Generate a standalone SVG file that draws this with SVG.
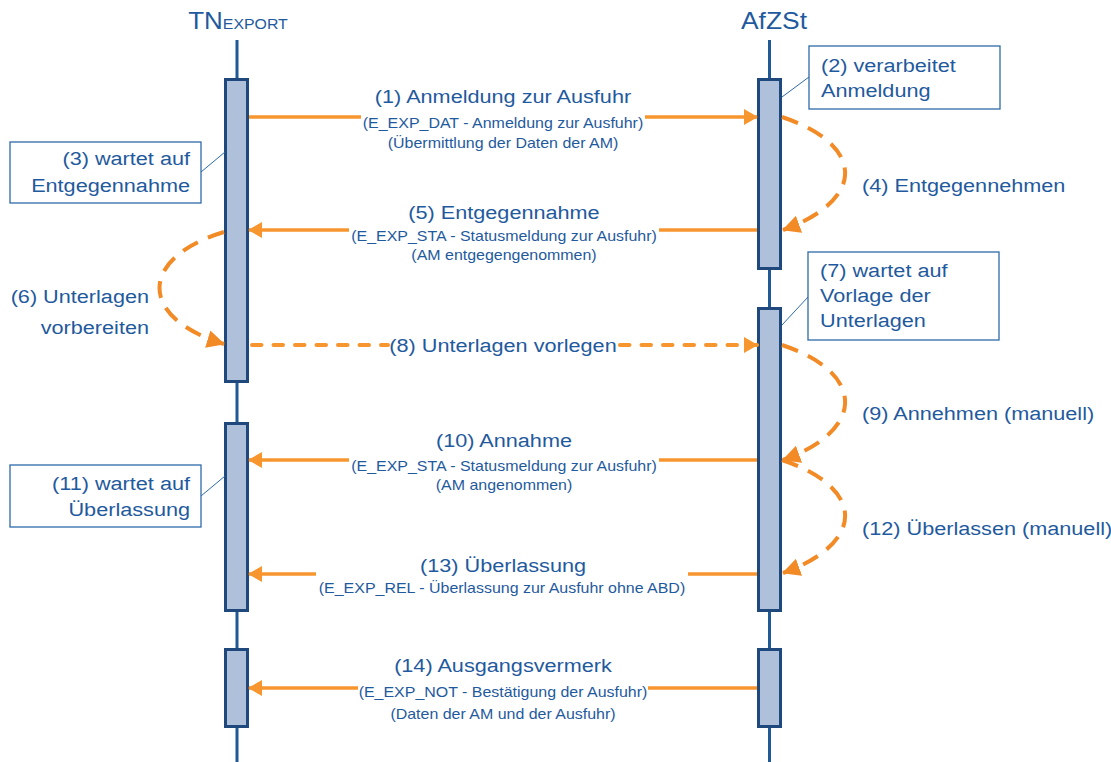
<svg xmlns="http://www.w3.org/2000/svg" width="1111" height="762" viewBox="0 0 1111 762">
<style>
text{font-family:"Liberation Sans",Arial,Helvetica,sans-serif;fill:#1f5a9e}
.t{font-size:24.5px}
.m{font-size:19px}
.s{font-size:14px}
.c{text-anchor:middle}
.e{text-anchor:end}
.life{stroke:#1f5a96;stroke-width:3;fill:none}
.act{fill:#afc1da;stroke:#1f497d;stroke-width:3}
.note{fill:#fff;stroke:#2e6aa8;stroke-width:1.3}
.lead{stroke:#2e6aa8;stroke-width:1;fill:none}
.msg{stroke:#f7962e;stroke-width:3.5;fill:none}
.dash{stroke:#f7962e;stroke-width:4;fill:none;stroke-dasharray:9.5 12;stroke-linecap:round}
.loop{stroke:#f28a26;stroke-width:4;fill:none;stroke-dasharray:17 11}
</style>
<defs>
<marker id="ah" markerUnits="userSpaceOnUse" markerWidth="14" markerHeight="16" viewBox="0 0 14 16" refX="13" refY="8" orient="auto">
<path d="M0,0 L14,8 L0,16 z" fill="#f7962e"/>
</marker>
<marker id="ah2" markerUnits="userSpaceOnUse" markerWidth="18" markerHeight="18" viewBox="0 0 18 18" refX="17" refY="9" orient="auto">
<path d="M0,0 L18,9 L0,18 z" fill="#f28a26"/>
</marker>
</defs>

<g id="tn">
<text class="t c" transform="translate(238,29) scale(1.06,1)">TN<tspan style="font-size:15px">EXPORT</tspan></text>
<line class="life" x1="237" y1="40" x2="237" y2="762"/>
<rect class="act" x="225.5" y="79.5" width="22" height="302"/>
<rect class="act" x="225.5" y="423.5" width="22" height="187"/>
<rect class="act" x="225.5" y="649.5" width="22" height="77"/>
</g>

<g id="afzst">
<text class="t c" x="774" y="29" textLength="66" lengthAdjust="spacingAndGlyphs">AfZSt</text>
<line class="life" x1="769.5" y1="40" x2="769.5" y2="762"/>
<rect class="act" x="758.5" y="79.5" width="22" height="189"/>
<rect class="act" x="758.5" y="308.5" width="22" height="302"/>
<rect class="act" x="758.5" y="649.5" width="22" height="77"/>
</g>

<g id="note2">
<line class="lead" x1="809" y1="77" x2="782" y2="97"/>
<rect class="note" x="809" y="46" width="191" height="63"/>
<text class="m" transform="translate(821,72) scale(1.14,1)">(2) verarbeitet</text>
<text class="m" transform="translate(821,97) scale(1.14,1)">Anmeldung</text>
</g>

<g id="note3">
<line class="lead" x1="201" y1="172" x2="225" y2="152"/>
<rect class="note" x="10" y="142" width="191" height="61"/>
<text class="m e" transform="translate(190,165) scale(1.14,1)">(3) wartet auf</text>
<text class="m e" transform="translate(190,192) scale(1.14,1)">Entgegennahme</text>
</g>

<g id="note7">
<line class="lead" x1="808" y1="297" x2="782" y2="325"/>
<rect class="note" x="808" y="252" width="191" height="88"/>
<text class="m" transform="translate(820,277) scale(1.14,1)">(7) wartet auf</text>
<text class="m" transform="translate(820,302) scale(1.14,1)">Vorlage der</text>
<text class="m" transform="translate(820,327) scale(1.14,1)">Unterlagen</text>
</g>

<g id="note11">
<line class="lead" x1="201" y1="496" x2="225" y2="476"/>
<rect class="note" x="10" y="465" width="191" height="62"/>
<text class="m e" transform="translate(190,490) scale(1.14,1)">(11) wartet auf</text>
<text class="m e" transform="translate(190,516) scale(1.14,1)">Überlassung</text>
</g>

<g id="connectors">
<path class="msg" d="M249,117 H361"/>
<path class="msg" d="M645,117 H757" marker-end="url(#ah)"/>
<path class="msg" d="M757,230 H659"/>
<path class="msg" d="M349,230 H249" marker-end="url(#ah)"/>
<path class="dash" d="M252,345 H388"/>
<path class="dash" d="M620,345 H757" marker-end="url(#ah)"/>
<path class="msg" d="M757,460 H659"/>
<path class="msg" d="M349,460 H249" marker-end="url(#ah)"/>
<path class="msg" d="M757,574 H688"/>
<path class="msg" d="M316,574 H249" marker-end="url(#ah)"/>
<path class="msg" d="M757,688 H648"/>
<path class="msg" d="M358,688 H249" marker-end="url(#ah)"/>
<path class="loop" d="M782,117 C866,145 866,200 783,230" marker-end="url(#ah2)"/>
<path class="loop" d="M782,345 C866,373 866,430 783,460" marker-end="url(#ah2)"/>
<path class="loop" d="M782,460 C866,488 866,543 783,573" marker-end="url(#ah2)"/>
<path class="loop" d="M224,232 C138,258 138,318 224,344" marker-end="url(#ah2)"/>
</g>

<g id="labels">
<text class="m c" transform="translate(503,103) scale(1.14,1)">(1) Anmeldung zur Ausfuhr</text>
<text class="s c" transform="translate(503,128) scale(1.14,1)">(E_EXP_DAT - Anmeldung zur Ausfuhr)</text>
<text class="s c" transform="translate(503,148) scale(1.14,1)">(Übermittlung der Daten der AM)</text>

<text class="m c" transform="translate(504,219) scale(1.14,1)">(5) Entgegennahme</text>
<text class="s c" transform="translate(504,241) scale(1.14,1)">(E_EXP_STA - Statusmeldung zur Ausfuhr)</text>
<text class="s c" transform="translate(504,260) scale(1.14,1)">(AM entgegengenommen)</text>

<text class="m c" transform="translate(503,352) scale(1.14,1)">(8) Unterlagen vorlegen</text>

<text class="m c" transform="translate(504,447) scale(1.14,1)">(10) Annahme</text>
<text class="s c" transform="translate(504,471) scale(1.14,1)">(E_EXP_STA - Statusmeldung zur Ausfuhr)</text>
<text class="s c" transform="translate(504,490) scale(1.14,1)">(AM angenommen)</text>

<text class="m c" transform="translate(503,572) scale(1.14,1)">(13) Überlassung</text>
<text class="s c" transform="translate(502,593) scale(1.14,1)">(E_EXP_REL - Überlassung zur Ausfuhr ohne ABD)</text>

<text class="m c" transform="translate(503,672) scale(1.14,1)">(14) Ausgangsvermerk</text>
<text class="s c" transform="translate(503,697) scale(1.14,1)">(E_EXP_NOT - Bestätigung der Ausfuhr)</text>
<text class="s c" transform="translate(503,719) scale(1.14,1)">(Daten der AM und der Ausfuhr)</text>

<text class="m" transform="translate(862,192) scale(1.14,1)">(4) Entgegennehmen</text>
<text class="m" transform="translate(862,420) scale(1.14,1)">(9) Annehmen (manuell)</text>
<text class="m" transform="translate(862,535) scale(1.14,1)">(12) Überlassen (manuell)</text>
<text class="m e" transform="translate(149,303) scale(1.14,1)">(6) Unterlagen</text>
<text class="m e" transform="translate(149,334) scale(1.14,1)">vorbereiten</text>
</g>
</svg>
